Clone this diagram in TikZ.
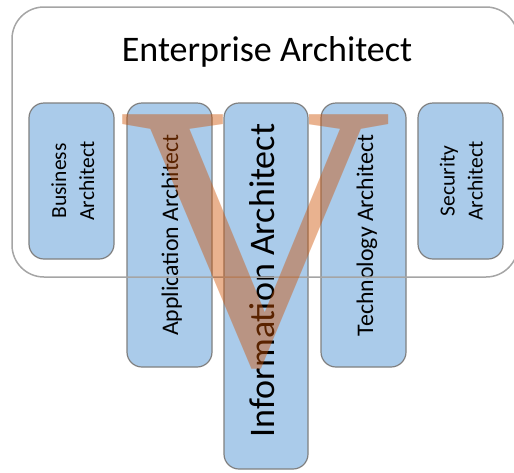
\documentclass[tikz,border=0pt]{standalone}
\usepackage{fontspec}
\setmainfont{Carlito}
\newfontfamily\vfont{Liberation Serif}
\definecolor{boxblue}{RGB}{170,203,234}
\definecolor{boxline}{RGB}{128,128,128}
\definecolor{outerline}{RGB}{165,165,165}
\definecolor{vorange}{RGB}{205,80,0}
\begin{document}
\begin{tikzpicture}[x=1pt,y=-1pt,
  archbox/.style={draw=boxline, line width=1.2pt, fill=boxblue, rounded corners=15pt, inner sep=0pt, minimum width=85pt},
  twoline/.style={font=\fontsize{21.5}{28}\selectfont, align=center, rotate=90, inner sep=0pt},
  oneline/.style={font=\fontsize{23.8}{28}\selectfont, rotate=90, inner sep=0pt},
  bigline/.style={font=\fontsize{36}{40}\selectfont, rotate=90, inner sep=0pt},
  titletext/.style={font=\fontsize{36}{40}\selectfont, inner sep=0pt}]
\useasboundingbox (0,0) rectangle (514,472);
\clip (0,0) rectangle (514,472);
% boxes
\node[archbox, minimum height=156pt] (bus) at (71.5,181) {};
\node[archbox, minimum height=264pt] (app) at (169.5,235) {};
\node[archbox, minimum width=84pt, minimum height=366pt] (inf) at (266,286) {};
\node[archbox, minimum height=264pt] (tec) at (363.5,235) {};
\node[archbox, minimum height=156pt] (sec) at (460.5,181) {};
% labels
\node[twoline] (busl) at (72.9,181) {Business\\Architect};
\node[oneline] (appl) at (171.9,235) {Application Architect};
\node[bigline] (infl) at (261.7,280.5) {Information Architect};
\node[oneline] (tecl) at (366.9,235.3) {Technology Architect};
\node[twoline] (secl) at (461.2,181) {Security\\Architect};
% enterprise container
\draw[outerline, line width=1.5pt, rounded corners=32pt] (12,7) rectangle (518,277);
\node[titletext, anchor=base] (title) at (267,61.7) {Enterprise Architect};
% the V
\begin{scope}
\clip (0,0) -- (224,0) -- (224,128) -- (309,128) -- (309,0) -- (514,0) -- (514,472) -- (0,472) -- cycle;
\node[font=\fontsize{380}{380}\vfont, text=vorange, text opacity=0.44, fill opacity=0.44, inner sep=0pt, anchor=base] (vee) at (256,363) {V};
\end{scope}
\end{tikzpicture}
\end{document}
